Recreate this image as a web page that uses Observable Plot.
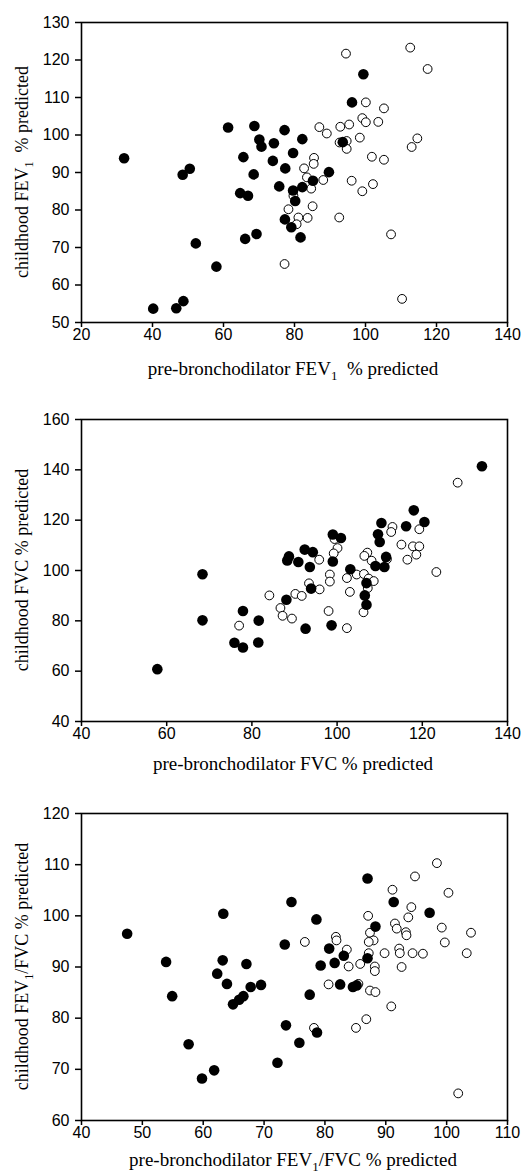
<!DOCTYPE html>
<html><head><meta charset="utf-8">
<script src="https://cdn.jsdelivr.net/npm/d3@7"></script>
<script src="https://cdn.jsdelivr.net/npm/@observablehq/plot@0.6"></script>
<style>
body{margin:0;background:#fff;}
#chart{width:524px;}
#chart svg{display:block;}
</style></head><body><div id="chart"></div>
<script>
// Panel 1: FEV1
const p1FilledX = [32.0,48.5,50.5,61.3,68.7,70.1,70.7,74.2,77.2,82.2,79.6,65.6,73.9,77.4,68.5,89.7,85.2,82.2,75.7,79.6,93.6,99.4,96.2,64.7,66.9,80.2,77.3,79.1,81.7,66.1,69.3,52.2,58.0,40.2,46.7,48.7];
const p1FilledY = [93.8,89.4,91.0,102.0,102.4,98.8,96.9,97.8,101.3,98.9,95.2,94.1,93.1,91.1,89.5,90.1,87.8,86.1,86.3,85.2,98.1,116.2,108.7,84.5,83.8,82.4,77.5,75.4,72.7,72.3,73.6,71.1,64.9,53.7,53.8,55.7];
const p1OpenX = [94.5,112.6,117.5,100.1,105.2,99.1,100.1,103.6,87.0,89.1,92.9,95.4,92.7,94.7,94.7,98.4,101.8,105.2,114.6,113.0,85.5,85.4,82.7,83.5,88.1,84.7,96.1,99.1,102.1,79.7,85.1,78.3,81.1,80.6,83.7,92.6,107.2,110.3,77.2];
const p1OpenY = [121.7,123.3,117.6,108.7,107.1,104.5,103.4,103.5,102.1,100.4,102.2,102.8,98.0,98.4,96.3,99.3,94.2,93.4,99.1,96.8,93.9,92.3,91.1,88.7,88.0,85.7,87.8,85.0,86.9,83.8,81.0,80.2,78.0,76.2,77.9,78.0,73.5,56.3,65.6];
const p1XTicks = [20,40,60,80,100,120,140];
const p1YTicks = [50,60,70,80,90,100,110,120,130];

// Panel 2: FVC
const p2FilledX = [134.0,118.0,120.5,116.2,110.4,109.6,110.0,99.0,100.9,99.0,92.4,94.3,88.3,88.7,90.9,93.6,103.1,109.0,111.1,111.5,68.4,106.9,93.9,106.5,106.9,88.1,77.9,68.4,81.6,92.6,98.7,75.9,77.9,81.5,57.8];
const p2FilledY = [141.4,123.9,119.3,117.6,118.9,114.4,111.3,114.3,112.9,103.6,108.3,107.3,104.0,105.6,103.4,101.4,100.5,101.8,101.4,105.4,98.5,95.0,92.8,90.1,86.4,88.4,83.9,80.2,80.1,76.9,78.2,71.3,69.4,71.4,60.8];
const p2OpenX = [128.3,113.0,112.7,115.1,117.8,119.3,119.3,116.5,118.6,123.3,107.1,106.4,108.1,111.7,100.1,99.2,99.4,95.8,98.3,98.3,102.3,104.6,106.3,107.4,108.6,107.2,93.4,95.9,103.0,84.1,90.2,91.7,86.7,87.2,89.4,77.0,98.0,102.3,106.2];
const p2OpenY = [134.9,117.3,115.3,110.3,109.6,109.6,116.4,104.3,106.3,99.4,107.1,105.8,103.9,104.5,108.9,106.8,112.5,104.3,98.4,95.6,97.0,98.4,98.6,96.8,95.8,93.0,94.9,92.5,91.5,90.1,90.7,89.9,85.1,82.0,80.9,78.1,83.9,77.1,83.4];
const p2XTicks = [40,60,80,100,120,140];
const p2YTicks = [40,60,80,100,120,140,160];

// Panel 3: FEV1/FVC
const p3FilledX = [47.5,53.9,63.2,63.3,67.1,62.3,74.5,73.4,78.6,80.7,83.1,81.6,79.3,87.0,91.3,88.3,87.0,97.2,54.9,57.6,59.8,61.8,63.9,64.9,65.9,66.6,67.8,69.5,72.2,73.6,75.8,77.5,78.7,82.5,84.6,85.2];
const p3FilledY = [96.5,91.0,91.3,100.4,90.6,88.7,102.7,94.4,99.3,93.6,92.2,90.8,90.3,107.3,102.7,97.9,91.7,100.6,84.3,74.9,68.2,69.8,86.7,82.7,83.6,84.3,86.1,86.5,71.3,78.6,75.2,84.6,77.2,86.6,86.1,86.4];
const p3OpenX = [76.7,81.8,81.9,83.6,83.9,85.8,87.1,87.4,88.0,87.2,87.2,88.2,88.2,89.8,91.1,91.5,91.8,92.2,92.3,92.6,93.3,93.4,93.7,94.2,94.8,94.4,96.1,98.4,99.2,100.3,99.7,104.0,103.3,80.6,85.5,87.4,88.3,90.9,86.8,85.1,78.2,101.9];
const p3OpenY = [94.9,95.9,95.2,93.4,90.1,90.6,100.0,96.7,95.2,94.9,92.7,90.1,89.2,92.7,105.1,98.5,97.5,93.6,92.7,90.0,96.8,96.2,99.7,101.7,107.7,92.7,92.6,110.3,97.7,104.5,94.8,96.7,92.7,86.6,86.7,85.4,85.1,82.3,79.8,78.1,78.1,65.3];
const p3XTicks = [40,50,60,70,80,90,100,110];
const p3YTicks = [60,70,80,90,100,110,120];

const zip = (xs, ys) => xs.map((x, i) => ({x, y: ys[i]}));

const panels = [
  {filled: zip(p1FilledX, p1FilledY), open: zip(p1OpenX, p1OpenY), xTicks: p1XTicks, yTicks: p1YTicks,
   height: 392, marginTop: 22, marginBottom: 70, xLabelOffset: 53,
   xLabel: [["pre-bronchodilator FEV", 0], ["1", 1], ["\u00a0 % predicted", 0]],
   yLabel: [["childhood FEV", 0], ["1", 1], ["\u00a0 % predicted", 0]]},
  {filled: zip(p2FilledX, p2FilledY), open: zip(p2OpenX, p2OpenY), xTicks: p2XTicks, yTicks: p2YTicks,
   height: 396, marginTop: 27, marginBottom: 67, xLabelOffset: 48.5,
   xLabel: [["pre-bronchodilator FVC % predicted", 0]],
   yLabel: [["childhood FVC % predicted", 0]]},
  {filled: zip(p3FilledX, p3FilledY), open: zip(p3OpenX, p3OpenY), xTicks: p3XTicks, yTicks: p3YTicks,
   height: 387, marginTop: 25, marginBottom: 55, xLabelOffset: 46,
   xLabel: [["pre-bronchodilator FEV", 0], ["1", 1], ["/FVC % predicted", 0]],
   yLabel: [["childhood FEV", 0], ["1", 1], ["/FVC % predicted", 0]]}
];

const xLabelFont = 19, yLabelFont = 18;
function addText(sel, parts, fs) {
  const t = sel.append("text")
    .attr("text-anchor", "middle")
    .attr("font-family", "'Liberation Serif', 'Times New Roman', serif")
    .attr("font-size", fs)
    .attr("fill", "#000")
    .style("white-space", "pre");
  const shift = fs * 0.28;
  let prevSub = false;
  for (const [s, sub] of parts) {
    const ts = t.append("tspan").text(s);
    if (sub) { ts.attr("dy", shift).attr("font-size", fs * 0.68); }
    else if (prevSub) { ts.attr("dy", -shift); }
    prevSub = !!sub;
  }
  return t;
}

const W = 524, ML = 81, MR = 17;
for (const p of panels) {
  const chart = Plot.plot({
    width: W, height: p.height,
    marginLeft: ML, marginRight: MR, marginTop: p.marginTop, marginBottom: p.marginBottom,
    style: {fontFamily: "'Liberation Sans', Arial, sans-serif", fontSize: "16px", color: "#000", background: "#fff", overflow: "visible"},
    x: {domain: [p.xTicks[0], p.xTicks[p.xTicks.length - 1]]},
    y: {domain: [p.yTicks[0], p.yTicks[p.yTicks.length - 1]]},
    marks: [
      Plot.dot(p.open, {x: "x", y: "y", r: 4.4, fill: "#fff", stroke: "#000", strokeWidth: 1}),
      Plot.dot(p.filled, {x: "x", y: "y", r: 5.3, fill: "#000", stroke: "none"}),
      Plot.frame({stroke: "#000", strokeWidth: 1.6}),
      Plot.axisX({ticks: p.xTicks, tickSize: 5, tickPadding: 1, label: null, strokeWidth: 1.5, fontSize: 16}),
      Plot.axisY({ticks: p.yTicks, tickSize: 6, tickPadding: 6, label: null, strokeWidth: 1.5, fontSize: 16})
    ]
  });
  const svg = d3.select(chart);
  const fTop = p.marginTop, fBot = p.height - p.marginBottom;
  const cx = (ML + (W - MR)) / 2, cy = (fTop + fBot) / 2;
  addText(svg, p.xLabel, xLabelFont).attr("x", cx - 1).attr("y", fBot + p.xLabelOffset);
  addText(svg, p.yLabel, yLabelFont).attr("transform", `translate(28,${cy}) rotate(-90)`);
  document.getElementById("chart").appendChild(chart);
}
</script></body></html>
